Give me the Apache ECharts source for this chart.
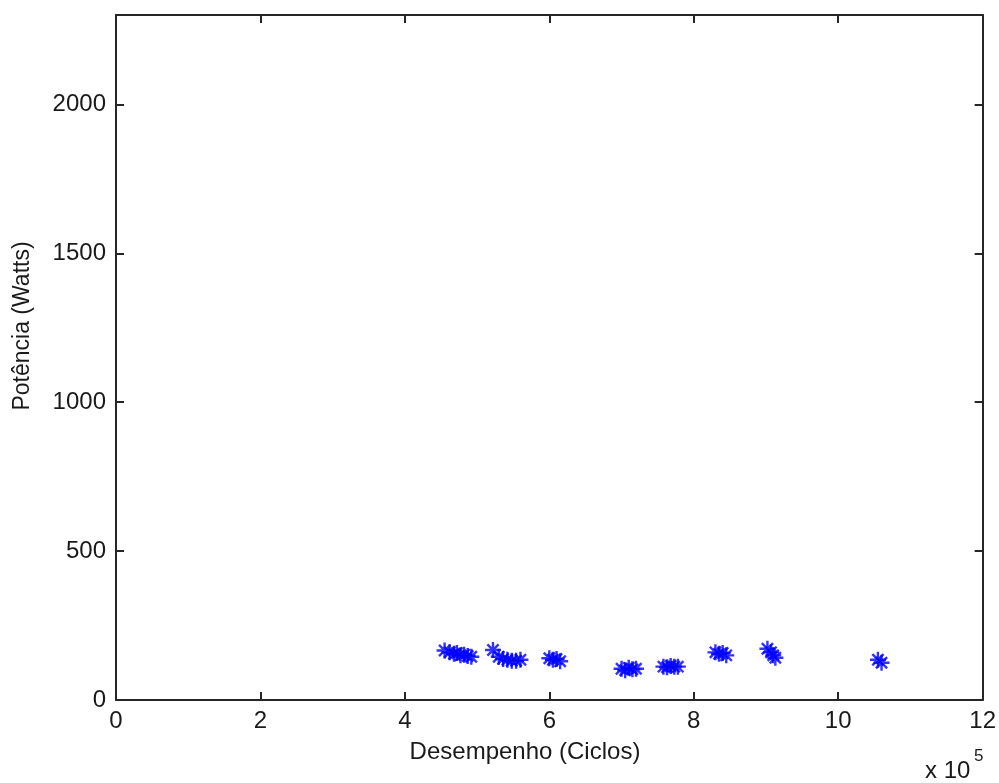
<!DOCTYPE html>
<html>
<head>
<meta charset="utf-8">
<script src="https://cdn.jsdelivr.net/npm/echarts@6/dist/echarts.min.js"></script>
<style>
html,body{margin:0;padding:0;background:#fff;}
#chart{width:999px;height:783px;}
</style>
</head>
<body>
<div id="chart"></div>
<script>
// Desempenho (Ciclos) and Potência (Watts)
const cycles = [
  455000, 462000, 468000, 472000, 477000, 482000, 487000, 492000,
  522000, 530000, 536000, 542000, 548000, 554000, 560000,
  600000, 605000, 610000, 615000,
  700000, 705000, 710000, 715000, 720000,
  758000, 763000, 768000, 773000, 778000,
  830000, 835000, 840000, 845000,
  902000, 907000, 910000, 913000,
  1055000, 1060000
];
const watts = [
  166, 160, 155, 158, 150, 152, 148, 145,
  168, 145, 138, 135, 132, 132, 135,
  140, 135, 138, 130,
  105, 100, 108, 103, 105,
  112, 110, 114, 112, 112,
  160, 155, 158, 150,
  172, 160, 150, 142,
  135, 125
];
const xTicks = [0, 2, 4, 6, 8, 10, 12];
const yTicks = [0, 500, 1000, 1500, 2000];

const points = cycles.map((c, i) => [c, watts[i]]);
const fontFam = '"Liberation Sans", Arial, sans-serif';
const textColor = '#1a1a1a';

const chart = echarts.init(document.getElementById('chart'), null, {renderer: 'canvas'});
function axisCommon() {
  return {
    axisLine: {show: true, onZero: false, lineStyle: {color: '#262626', width: 2}},
    axisTick: {show: true, inside: true, length: 8, lineStyle: {color: '#262626', width: 2}},
    splitLine: {show: false}
  };
}
chart.setOption({
  animation: false,
  backgroundColor: '#fff',
  grid: {left: 116, top: 15, right: 12, bottom: 83},
  xAxis: [
    Object.assign({
      type: 'value', min: 0, max: 1200000, interval: 200000, position: 'bottom',
      axisLabel: {fontFamily: fontFam, fontSize: 24, color: textColor, margin: 9,
        formatter: v => String(v / 100000)}
    }, axisCommon()),
    Object.assign({
      type: 'value', min: 0, max: 1200000, interval: 200000, position: 'top',
      axisLabel: {show: false}
    }, axisCommon())
  ],
  yAxis: [
    Object.assign({
      type: 'value', min: 0, max: 2300, interval: 500, position: 'left',
      axisLabel: {fontFamily: fontFam, fontSize: 24, color: textColor, margin: 10,
        showMaxLabel: false,
        formatter: v => (yTicks.indexOf(v) >= 0 ? String(v) : '')}
    }, axisCommon()),
    Object.assign({
      type: 'value', min: 0, max: 2300, interval: 500, position: 'right',
      axisLabel: {show: false}
    }, axisCommon())
  ],
  graphic: [
    {type: 'text', x: 525, y: 752, style: {text: 'Desempenho (Ciclos)', fontFamily: fontFam, fontSize: 24,
      fill: textColor, align: 'center', verticalAlign: 'middle'}},
    {type: 'text', x: 23, y: 326, rotation: Math.PI / 2, style: {text: 'Potência (Watts)', fontFamily: fontFam, fontSize: 23,
      fill: textColor, align: 'center', verticalAlign: 'middle'}},
    {type: 'text', x: 925, y: 771, style: {text: 'x 10', fontFamily: fontFam, fontSize: 24, fill: textColor,
      verticalAlign: 'middle'}},
    {type: 'text', x: 974, y: 756, style: {text: '5', fontFamily: fontFam, fontSize: 17, fill: textColor,
      verticalAlign: 'middle'}}
  ],
  series: [{
    type: 'scatter',
    data: points,
    symbol: 'path://M6,0L6,12M0,6L12,6M1.8,1.8L10.2,10.2M1.8,10.2L10.2,1.8',
    symbolSize: 16,
    itemStyle: {color: 'none', borderColor: '#0000ff', borderWidth: 2.4},
    emphasis: {disabled: true}
  }]
});
</script>
</body>
</html>
